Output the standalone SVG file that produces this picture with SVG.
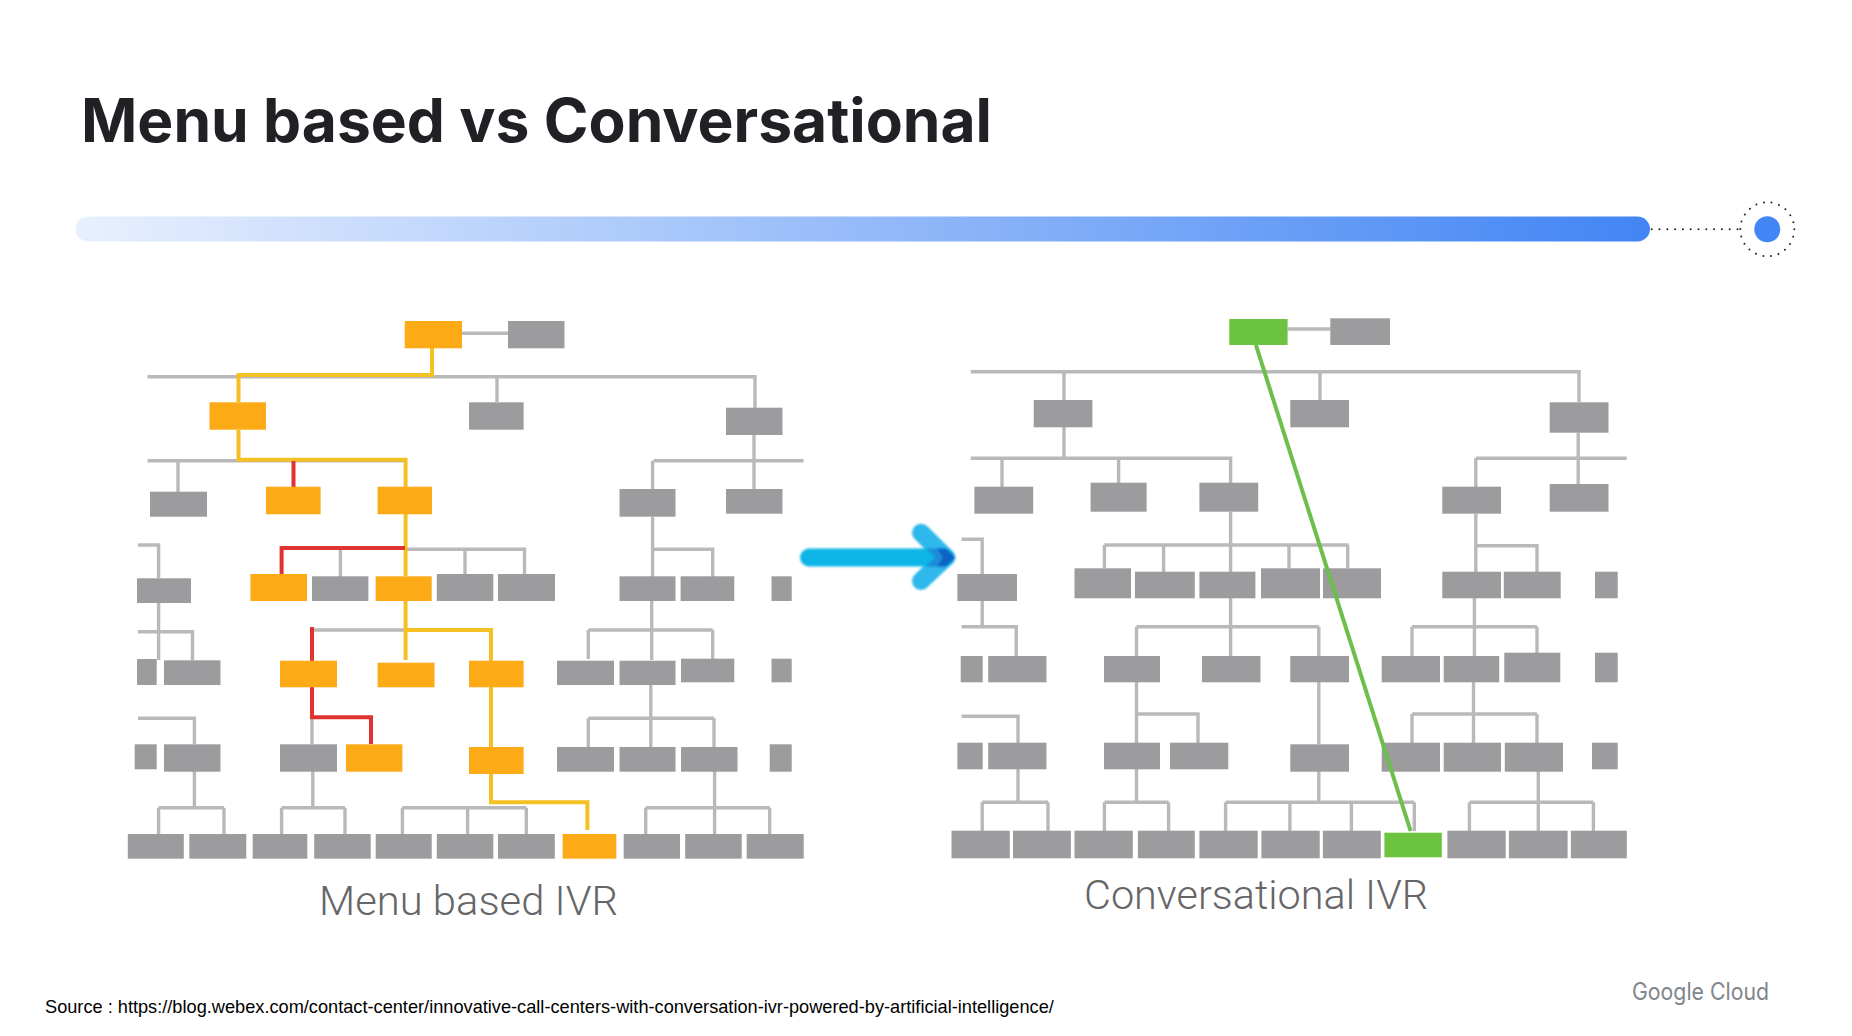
<svg xmlns="http://www.w3.org/2000/svg" width="1852" height="1036" viewBox="0 0 1852 1036">
<style>
text{font-family:"Liberation Sans",Arial,sans-serif}
.g{fill:#9c9c9f}.o{fill:#fcaa17}.v{fill:#6cc341}
.panel{filter:url(#soft)}
.l{fill:none;stroke:#b9b9bb;stroke-width:2.6}
.h{stroke-width:3.4}
.y{fill:none;stroke:#f5c024;stroke-width:4}
.r{fill:none;stroke:#e0322f;stroke-width:4}
.cap{font-family:Roboto,"Liberation Sans",sans-serif;font-weight:300;font-size:41px;fill:#666668}
</style>
<defs>
<linearGradient id="bar" x1="0" x2="1" y1="0" y2="0"><stop offset="0" stop-color="#e8f0fe"/><stop offset="1" stop-color="#4285f4"/></linearGradient>
<filter id="soft" x="-2%" y="-2%" width="104%" height="104%"><feGaussianBlur stdDeviation="0.6"/></filter>
<filter id="softer" filterUnits="userSpaceOnUse" x="780" y="510" width="200" height="95"><feGaussianBlur stdDeviation="0.9"/></filter>
</defs>
<rect width="1852" height="1036" fill="#fff"/>
<text id="title" x="81" y="142" font-size="60" font-weight="700" fill="#202124" style="font-family:Inter,'Liberation Sans',sans-serif" textLength="911" lengthAdjust="spacingAndGlyphs">Menu based vs Conversational</text>
<g id="progress">
<rect x="75.500" y="216.500" width="1574.500" height="25" rx="12.500" fill="url(#bar)"/>
<path d="M1651.700 229.300H1739" fill="none" stroke="#202124" stroke-width="2" stroke-linecap="round" stroke-dasharray="0 7.800"/>
<circle cx="1767.300" cy="229.300" r="27" fill="none" stroke="#202124" stroke-width="2" stroke-linecap="round" stroke-dasharray="0 7.710"/>
<circle cx="1767.300" cy="229.300" r="13" fill="#4285f4"/>
</g>
<g id="connectors" class="panel">
<path class="l h" d="M462 333.300H508M147.500 376.700H755V408M497 376.700V402M147.500 460.700H407M178 460.700V492M653.500 460.700H803.600M754 435V489M652.600 460.700V489M652.600 517V577M138 545H158.600V578M158.600 603V660M405 549.300H524.500V575M340.400 549.300V577M465 549.300V575M651.700 549.300H712.700V577M138 631.700H192.500V660M312 630H406M588.300 630H712.700M588.300 630V659M712.700 630V659M651.700 601V660M138 718.300H194.400V744M194.400 771V807.700M158.600 807.700H224M158.600 807.700V834M224 807.700V834M312 717V744M312.800 771V807.700M281.600 807.700H345M281.600 807.700V834M345 807.700V834M402.400 807.700H526.300M402.400 807.700V834M467.600 807.700V834M526.300 807.700V834M645.700 807.700H769.700M645.700 807.700V834M769.700 807.700V834M714.600 771V834M588.300 718.300H714M588.300 718.300V747M714 718.300V747M650.800 685V747"/>
<path class="y" d="M432 348V375H238.500V402M238.500 430V459.700H405.600V487M405.600 514V576M405.600 601V660M406 630H491V661M491 687V747M491 774V802.300H587.400V830"/>
<path class="r" d="M293.500 461V487M405 548H281.600V574M312 627V661M312 687V717.300H371V744"/>
<path class="l h" d="M1287.600 329H1330.300M970.800 371.700H1579V402M1064 371.700V400M1320 371.700V400M1064 427V458.300M970.800 458.300H1230.600V483M1002 458.300V487M1118.600 458.300V483M1578.200 432.700V485M1475.800 458.300H1626.800M1475.800 458.300V487M1230.600 512V572M1104.400 545H1348.600M1104.400 545V568M1163.600 545V572M1289 545V568M1347.700 545V568M961.600 539.300H982.200V574M1475.800 514V572M1475.800 545.700H1537V572M982.200 601V626.700M961.600 626.700H1016.200V656M1136.500 626.700H1318.800M1136.500 626.700V656M1230.600 598V656M1318.800 626.700V656M1412 626.700H1537M1412 626.700V656M1537 626.700V653M1474.400 598V656M961.600 716.300H1018V743M1136.500 682V743M1136.500 714H1198V743M1318.800 682V744M1412 714H1537M1412 714V743M1537 714V743M1473.500 682V743M1018 769V802.300M982.200 802.300H1048M982.200 802.300V831M1048 802.300V831M1136.500 769V802.300M1104.400 802.300H1168.600M1104.400 802.300V831M1168.600 802.300V831M1225.600 802.300H1414.300M1225.600 802.300V831M1289.900 802.300V831M1351.400 802.300V831M1414.300 802.300V831M1318.800 771V802.300M1469.400 802.300H1593.400M1469.400 802.300V831M1593.400 802.300V831M1538.300 771V831"/>
</g>
<g id="menu-nodes" class="panel">
<rect class="o" x="404.700" y="321" width="57.300" height="27.300"/>
<rect class="g" x="508" y="321" width="56.500" height="27.300"/>
<rect class="o" x="209.500" y="402.300" width="56.500" height="27.400"/>
<rect class="g" x="469" y="402.300" width="54.600" height="27.400"/>
<rect class="g" x="726" y="407.700" width="56.500" height="27.300"/>
<rect class="g" x="150" y="491.700" width="57" height="25"/>
<rect class="o" x="266" y="486.700" width="54.600" height="27.600"/>
<rect class="o" x="377.600" y="486.700" width="54.400" height="27.600"/>
<rect class="g" x="619.500" y="489" width="56" height="27.700"/>
<rect class="g" x="726" y="489" width="56.500" height="24.700"/>
<rect class="g" x="137" y="578.300" width="54" height="24.700"/>
<rect class="o" x="250.400" y="574" width="56.600" height="27"/>
<rect class="g" x="312" y="576.300" width="56.400" height="24.700"/>
<rect class="o" x="375.700" y="576.300" width="56" height="24.700"/>
<rect class="g" x="436.800" y="574" width="56.500" height="27"/>
<rect class="g" x="498" y="574" width="57" height="27"/>
<rect class="g" x="619.500" y="576.300" width="56" height="24.700"/>
<rect class="g" x="680.600" y="576.300" width="53.700" height="24.700"/>
<rect class="g" x="771.500" y="576.300" width="20.200" height="24.700"/>
<rect class="g" x="137" y="659" width="19.700" height="26"/>
<rect class="g" x="164" y="660.300" width="56.500" height="24.700"/>
<rect class="o" x="280" y="660.700" width="57" height="26.600"/>
<rect class="o" x="377.600" y="662.700" width="56.900" height="24.600"/>
<rect class="o" x="469" y="660.700" width="54.600" height="26.600"/>
<rect class="g" x="557" y="660.700" width="57" height="24.300"/>
<rect class="g" x="619.500" y="660.700" width="56" height="24.300"/>
<rect class="g" x="681" y="658.700" width="53.300" height="23.600"/>
<rect class="g" x="771.500" y="658.700" width="20.200" height="23.600"/>
<rect class="g" x="134.700" y="744.300" width="22" height="25"/>
<rect class="g" x="164" y="744.300" width="56.500" height="27.400"/>
<rect class="g" x="280" y="744.300" width="57" height="27.400"/>
<rect class="o" x="346" y="744.300" width="56.400" height="27.400"/>
<rect class="o" x="469" y="747" width="54.600" height="27"/>
<rect class="g" x="557" y="747" width="57" height="24.700"/>
<rect class="g" x="619.500" y="747" width="56" height="24.700"/>
<rect class="g" x="681" y="747" width="56.500" height="24.700"/>
<rect class="g" x="769.700" y="744.300" width="22" height="27.400"/>
<rect class="g" x="127.800" y="834" width="56" height="24.700"/>
<rect class="g" x="189.300" y="834" width="57" height="24.700"/>
<rect class="g" x="252.700" y="834" width="54.600" height="24.700"/>
<rect class="g" x="314.200" y="834" width="56.500" height="24.700"/>
<rect class="g" x="375.700" y="834" width="56" height="24.700"/>
<rect class="g" x="436.800" y="834" width="56.500" height="24.700"/>
<rect class="g" x="498" y="834" width="56.800" height="24.700"/>
<rect class="o" x="562.600" y="834" width="53.700" height="24.700"/>
<rect class="g" x="623.700" y="834" width="56.300" height="24.700"/>
<rect class="g" x="685.200" y="834" width="56.500" height="24.700"/>
<rect class="g" x="746.700" y="834" width="57" height="24.700"/>
</g>
<g id="conversational-nodes" class="panel">
<rect class="v" x="1229.300" y="319" width="58.300" height="26"/>
<rect class="g" x="1330.300" y="318.300" width="59.700" height="26.700"/>
<rect class="g" x="1033.700" y="400" width="58.700" height="27.300"/>
<rect class="g" x="1290.300" y="400" width="58.700" height="27.300"/>
<rect class="g" x="1549.700" y="402.300" width="58.800" height="30.400"/>
<rect class="g" x="974.400" y="486.700" width="58.800" height="27"/>
<rect class="g" x="1090.600" y="482.700" width="56" height="29"/>
<rect class="g" x="1199.400" y="482.700" width="58.800" height="29"/>
<rect class="g" x="1442.300" y="486.700" width="58.700" height="27"/>
<rect class="g" x="1549.700" y="484" width="58.800" height="27.700"/>
<rect class="g" x="957.400" y="574" width="59.600" height="27"/>
<rect class="g" x="1074.500" y="568.300" width="56.500" height="30"/>
<rect class="g" x="1135" y="571.700" width="59.800" height="26.600"/>
<rect class="g" x="1199.400" y="571.700" width="56" height="26.600"/>
<rect class="g" x="1261" y="568.300" width="59" height="30"/>
<rect class="g" x="1323" y="568.300" width="58" height="30"/>
<rect class="g" x="1442.300" y="571.700" width="58.700" height="26.600"/>
<rect class="g" x="1503.800" y="571.700" width="56.900" height="26.600"/>
<rect class="g" x="1595" y="571.700" width="22.700" height="26.600"/>
<rect class="g" x="960.700" y="656" width="22" height="26.300"/>
<rect class="g" x="988.200" y="656" width="58.300" height="26.300"/>
<rect class="g" x="1104" y="656" width="56" height="26.300"/>
<rect class="g" x="1202" y="656" width="58.500" height="26.300"/>
<rect class="g" x="1290.300" y="656" width="58.700" height="26.300"/>
<rect class="g" x="1381.700" y="656" width="58.300" height="26.300"/>
<rect class="g" x="1443.700" y="656" width="55.500" height="26.300"/>
<rect class="g" x="1504.300" y="652.700" width="56" height="29.600"/>
<rect class="g" x="1595" y="652.700" width="22.700" height="29.600"/>
<rect class="g" x="957.400" y="742.700" width="25.300" height="26.600"/>
<rect class="g" x="988.200" y="742.700" width="58.300" height="26.600"/>
<rect class="g" x="1104" y="742.700" width="56" height="26.600"/>
<rect class="g" x="1170" y="742.700" width="58.300" height="26.600"/>
<rect class="g" x="1290.300" y="744.300" width="58.700" height="27.400"/>
<rect class="g" x="1381.700" y="742.700" width="58.300" height="29"/>
<rect class="g" x="1443.700" y="742.700" width="57.300" height="29"/>
<rect class="g" x="1504.800" y="742.700" width="58.200" height="29"/>
<rect class="g" x="1592" y="742.700" width="25.700" height="26.600"/>
<rect class="g" x="951.500" y="830.700" width="58.300" height="27.600"/>
<rect class="g" x="1013" y="830.700" width="57.900" height="27.600"/>
<rect class="g" x="1074.500" y="830.700" width="58.300" height="27.600"/>
<rect class="g" x="1137.900" y="830.700" width="56.900" height="27.600"/>
<rect class="g" x="1199.400" y="830.700" width="58.300" height="27.600"/>
<rect class="g" x="1261.400" y="830.700" width="58.300" height="27.600"/>
<rect class="g" x="1322.900" y="830.700" width="57.900" height="27.600"/>
<rect class="v" x="1384.400" y="832.700" width="57.400" height="24.600"/>
<rect class="g" x="1447.400" y="830.700" width="58.300" height="27.600"/>
<rect class="g" x="1508.900" y="830.700" width="58.700" height="27.600"/>
<rect class="g" x="1570.900" y="830.700" width="55.900" height="27.600"/>
</g>
<g id="direct-line" class="panel"><path d="M1255.900 345L1410.600 831" fill="none" stroke="#6cbf4b" stroke-width="4"/></g>
<g id="arrow" filter="url(#softer)">
<path d="M921 532.700L946 557.300L921 581" fill="none" stroke="#2db8ec" stroke-width="18" stroke-linecap="round" stroke-linejoin="round"/>
<path d="M809 557.500H946" fill="none" stroke="#0cb5e6" stroke-width="18" stroke-linecap="round"/>
<path d="M926 548.500H946L955.500 557.500L946 566.500H926L935 557.500Z" fill="#1a8cd8"/>
<path d="M937 548.500H946L955.500 557.500L946 566.500H937L943 557.500Z" fill="#0b62c6"/>
</g>
<text id="cap-menu" class="cap" x="319" y="915" textLength="299" lengthAdjust="spacingAndGlyphs">Menu based IVR</text>
<text id="cap-conv" class="cap" x="1084" y="909" textLength="344" lengthAdjust="spacingAndGlyphs">Conversational IVR</text>
<text id="source" x="45" y="1013" font-size="18.210" fill="#000">Source : https://blog.webex.com/contact-center/innovative-call-centers-with-conversation-ivr-powered-by-artificial-intelligence/</text>
<text id="logo" x="1632" y="1000" font-size="24" fill="#80868b" style="font-family:Inter,'Liberation Sans',sans-serif" textLength="137" lengthAdjust="spacingAndGlyphs">Google Cloud</text>
</svg>
